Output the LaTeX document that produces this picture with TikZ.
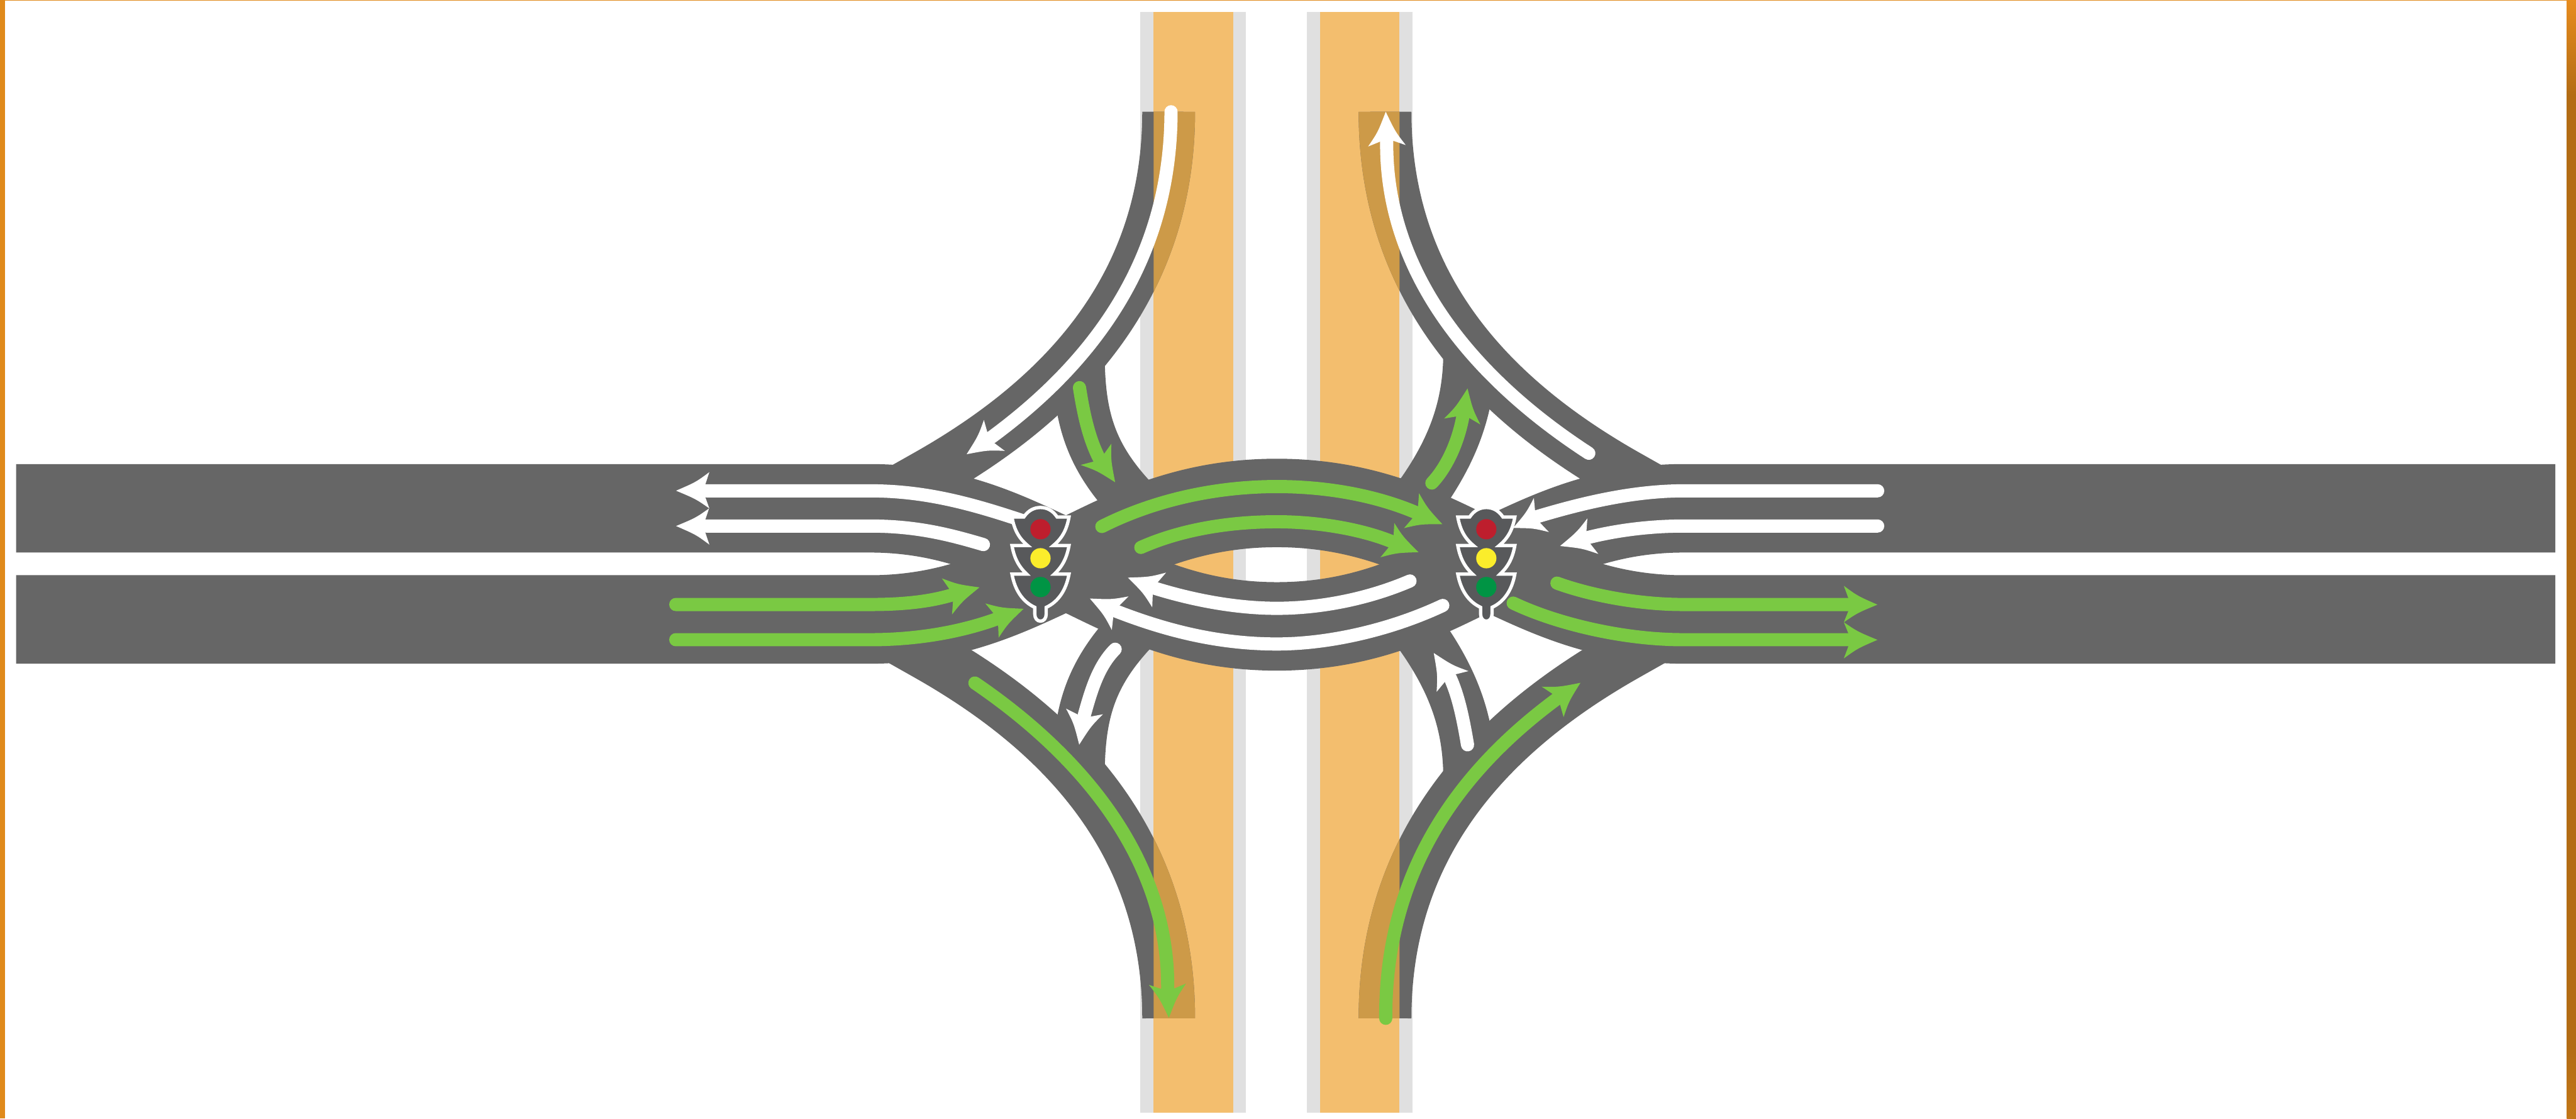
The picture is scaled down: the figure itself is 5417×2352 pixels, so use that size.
\documentclass[tikz,border=0pt]{standalone}
\usetikzlibrary{calc}
\definecolor{roadgrey}{HTML}{666666}
\definecolor{strippale}{HTML}{E0E0E0}
\definecolor{striporange}{HTML}{F3BE6E}
\definecolor{stripdark}{HTML}{CD9A48}
\definecolor{lanegreen}{HTML}{7AC943}
\definecolor{bordera}{HTML}{E08A1B}
\definecolor{borderb}{HTML}{E78C1E}
\definecolor{borderc}{HTML}{B36C14}
\definecolor{borderd}{HTML}{C27718}
\definecolor{sigbody}{HTML}{58595B}
\definecolor{lampred}{HTML}{BE1E2D}
\definecolor{lampyellow}{HTML}{FBED2B}
\definecolor{lampgreen}{HTML}{009444}
\tikzset{
  ramp/.style={line width=111pt},
  turnband/.style={line width=110pt,draw=roadgrey},
  band/.style={line width=186pt,draw=roadgrey,line join=round},
  wlane/.style={line width=27.7pt,draw=white,line cap=round},
  glane/.style={line width=27.7pt,draw=lanegreen,line cap=round}
}
% colour, tip, barb 1, notch 1, notch 2, barb 2
\newcommand\arrowhd[6]{\fill[#1] (#2) .. controls ($(#2)!.5!(#3)!.25!(#4)$) .. (#3) -- (#4) -- (#5) -- (#6) .. controls ($(#2)!.5!(#6)!.25!(#5)$) .. (#2) -- cycle;}
\newcommand\trafficsignal[1]{%
  \begin{scope}[shift={(#1,0)}]
    \filldraw[fill=sigbody,draw=white,line width=7pt,miter limit=3]
      (-35,1087) .. controls (-25,1072) and (-12,1067) .. (0,1067)
      .. controls (12,1067) and (25,1072) .. (35,1087) -- (60,1087)
      .. controls (55,1115) and (45,1132) .. (27,1147) -- (60,1147)
      .. controls (55,1175) and (45,1192) .. (29,1207) -- (60,1207)
      .. controls (54,1240) and (38,1265) .. (12,1277) -- (12,1291)
      .. controls (12,1300) and (7,1306) .. (0,1306)
      .. controls (-7,1306) and (-12,1300) .. (-12,1291) -- (-12,1277)
      .. controls (-38,1265) and (-54,1240) .. (-60,1207) -- (-29,1207)
      .. controls (-45,1192) and (-55,1175) .. (-60,1147) -- (-27,1147)
      .. controls (-45,1132) and (-55,1115) .. (-60,1087) -- cycle;
    \fill[lampred] (0,1112.7) circle (21.3);
    \fill[lampyellow] (0,1173.7) circle (21.3);
    \fill[lampgreen] (0,1234.3) circle (21.3);
  \end{scope}}
\begin{document}
\begin{tikzpicture}[x=1pt,y=-1pt]
\useasboundingbox (0,0) rectangle (5417,2352);
\fill[white] (0,0) rectangle (5417,2352);
% frame
\fill[bordera] (0,0) rectangle (10,2352);
\fill[bordera] (0,0) rectangle (5417,1.5);
\fill[borderc] (5397.5,200) rectangle (5417,2200);
\shade[top color=borderb,bottom color=borderc] (5397.5,0) rectangle (5417,200);
\shade[top color=borderc,bottom color=borderd] (5397.5,2200) rectangle (5417,2352);
% cross road strips
\fill[strippale] (2398,24.5) rectangle (2620.5,2340);
\fill[strippale] (2748.5,24.5) rectangle (2970,2340);
\fill[striporange] (2426,24.5) rectangle (2593,2340);
\fill[striporange] (2776.5,24.5) rectangle (2943,2340);
% long ramps
\draw[ramp,draw=roadgrey] (2457.5,235) .. controls (2457.5,620) and (2215,850) .. (1950,1000) -- (1865,1048);
\draw[ramp,draw=roadgrey] (2912.5,235) .. controls (2912.5,620) and (3155,850) .. (3420,1000) -- (3505,1048);
\draw[ramp,draw=roadgrey] (2457.5,2141) .. controls (2457.5,1756) and (2215,1526) .. (1950,1376) -- (1865,1328);
\draw[ramp,draw=roadgrey] (2912.5,2141) .. controls (2912.5,1756) and (3155,1526) .. (3420,1376) -- (3505,1328);
\begin{scope}
  \clip (2426,24.5) rectangle (2593,2340) (2776.5,24.5) rectangle (2943,2340);
  \draw[ramp,draw=stripdark] (2457.5,235) .. controls (2457.5,620) and (2215,850) .. (1950,1000);
  \draw[ramp,draw=stripdark] (2912.5,235) .. controls (2912.5,620) and (3155,850) .. (3420,1000);
  \draw[ramp,draw=stripdark] (2457.5,2141) .. controls (2457.5,1756) and (2215,1526) .. (1950,1376);
  \draw[ramp,draw=stripdark] (2912.5,2141) .. controls (2912.5,1756) and (3155,1526) .. (3420,1376);
\end{scope}
% turning bands
\draw[turnband] (2268,740) .. controls (2268,880) and (2292,965) .. (2400,1072);
\draw[turnband] (3090,740) .. controls (3090,850) and (3060,950) .. (2965,1072);
\draw[turnband] (2268,1636) .. controls (2268,1496) and (2292,1411) .. (2400,1304);
\draw[turnband] (3090,1636) .. controls (3090,1526) and (3060,1426) .. (2965,1304);
% main crossing bands
\draw[band] (34,1068.75) -- (1830,1068.75) .. controls (2010,1068.75) and (2130,1135) .. (2243,1187)
  .. controls (2350,1236) and (2480,1317) .. (2685,1317)
  .. controls (2890,1317) and (3020,1236) .. (3127,1187)
  .. controls (3240,1135) and (3360,1068.75) .. (3540,1068.75) -- (5373.3,1068.75);
\draw[band] (34,1302.4) -- (1830,1302.4) .. controls (2010,1302.4) and (2130,1238) .. (2243,1186)
  .. controls (2350,1136) and (2480,1057.5) .. (2685,1057.5)
  .. controls (2890,1057.5) and (3020,1136) .. (3127,1186)
  .. controls (3240,1238) and (3360,1302.4) .. (3540,1302.4) -- (5373.3,1302.4);
% white lanes
\draw[wlane] (3948.5,1032) -- (3540,1032) .. controls (3430,1032) and (3320,1060) .. (3233,1086);
\draw[wlane] (3948.5,1106) -- (3540,1106) .. controls (3470,1106) and (3400,1115) .. (3340,1130);
\draw[wlane] (2965,1221.5) .. controls (2880,1258) and (2780,1279) .. (2685,1279) .. controls (2600,1279) and (2510,1262) .. (2429,1237);
\draw[wlane] (3034,1273) .. controls (2930,1322) and (2800,1354) .. (2685,1354) .. controls (2560,1354) and (2450,1325) .. (2347,1285);
\draw[wlane] (2160,1098) .. controls (2050,1061) and (1950,1032) .. (1830,1032) -- (1485,1032);
\draw[wlane] (2068,1145) .. controls (2000,1125) and (1930,1106) .. (1830,1106) -- (1485,1106);
\draw[wlane] (2462.5,235) .. controls (2462,556.5) and (2288.4,769.8) .. (2084,920);
\draw[wlane] (3341,953) .. controls (3108.9,802.5) and (2913,581.5) .. (2916,297);
\draw[wlane] (2345,1365) .. controls (2310,1400) and (2295,1450) .. (2280,1504);
\draw[wlane] (3086,1566) .. controls (3075,1500) and (3065,1460) .. (3050,1426);
% green lanes
\draw[glane] (1421,1271) -- (1830,1271) .. controls (1910,1271) and (1960,1263) .. (2000,1251.5);
\draw[glane] (1421,1345) -- (1830,1345) .. controls (1940,1345) and (2030,1325) .. (2094,1302);
\draw[glane] (2317,1107) .. controls (2430,1050) and (2560,1023) .. (2685,1023) .. controls (2800,1023) and (2900,1045) .. (2976,1077);
\draw[glane] (2399,1151) .. controls (2480,1115) and (2580,1097) .. (2685,1097) .. controls (2770,1097) and (2860,1112) .. (2925,1138);
\draw[glane] (3274,1226) .. controls (3340,1250) and (3440,1271) .. (3540,1271) -- (3886,1271);
\draw[glane] (3182,1268) .. controls (3270,1310) and (3410,1345) .. (3540,1345) -- (3886,1345);
\draw[glane] (2270,815) .. controls (2280,880) and (2292,925) .. (2310.7,962.5);
\draw[glane] (3011,1015.6) .. controls (3040,985) and (3065,935) .. (3076,877);
\draw[glane] (2050,1436) .. controls (2274,1588.5) and (2457.5,1806) .. (2455.5,2078);
\draw[glane] (2914,2141) .. controls (2912.5,1829) and (3071.7,1619) .. (3273,1470);
% white arrowheads
\arrowhd{white}{1421.7,1031.7}{1491.7,992.7}{1483.3,1018}{1483.3,1045.7}{1491.7,1069}
\arrowhd{white}{1421.7,1106}{1491,1069}{1483.3,1092.3}{1483.3,1120}{1491.7,1145}
\arrowhd{white}{2032.7,955}{2069,883}{2076,908}{2091,931.6}{2113,948}
\arrowhd{white}{2372,1214.5}{2452,1204}{2434.7,1224}{2424,1250}{2423,1277}
\arrowhd{white}{2291.8,1258.4}{2373,1254}{2354,1273}{2341,1297.4}{2338,1324.5}
\arrowhd{white}{2269.4,1565.7}{2241.8,1490}{2265.8,1502}{2293.9,1506.6}{2319.4,1501.8}
\arrowhd{white}{2914,235}{2877,308}{2903,297.4}{2931,296.4}{2956,305}
\arrowhd{white}{3182,1110}{3225.5,1047}{3228,1073.6}{3239,1099.6}{3257,1118.6}
\arrowhd{white}{3280.6,1148}{3338,1090}{3336,1117}{3344,1143}{3361,1164.6}
\arrowhd{white}{3015,1373}{3088,1411}{3061,1417.7}{3038,1434}{3021,1454.6}
% green arrowheads
\arrowhd{lanegreen}{2059.7,1235}{1980.6,1216}{1996,1238}{2004,1265}{2002,1292}
\arrowhd{lanegreen}{2152.6,1280}{2072,1268.7}{2088.8,1289}{2099,1315}{2100,1340.8}
\arrowhd{lanegreen}{2345,1014}{2337,933}{2322,954}{2299,970.6}{2272.4,977.6}
\arrowhd{lanegreen}{2458,2140}{2416,2070.7}{2441,2079}{2469,2078.4}{2494,2068}
\arrowhd{lanegreen}{3086,816.7}{3036.7,880}{3062,875.7}{3090,879}{3113,892.5}
\arrowhd{lanegreen}{3033,1102}{2984,1037}{2982,1064}{2970,1090}{2952.5,1110.4}
\arrowhd{lanegreen}{2983,1161}{2932,1099.6}{2930.6,1125}{2920,1151}{2903,1171.7}
\arrowhd{lanegreen}{3323.5,1435.6}{3242,1443.8}{3265,1459}{3280.6,1481.7}{3288,1507.7}
\arrowhd{lanegreen}{3948,1271.3}{3877.3,1231.7}{3886.7,1257.3}{3886.7,1285}{3877.3,1308.3}
\arrowhd{lanegreen}{3948,1345.3}{3877.3,1308.3}{3886.7,1331.3}{3886.7,1359.3}{3877.3,1384.3}
% signals
\trafficsignal{2188}
\trafficsignal{3125.5}
\end{tikzpicture}
\end{document}
